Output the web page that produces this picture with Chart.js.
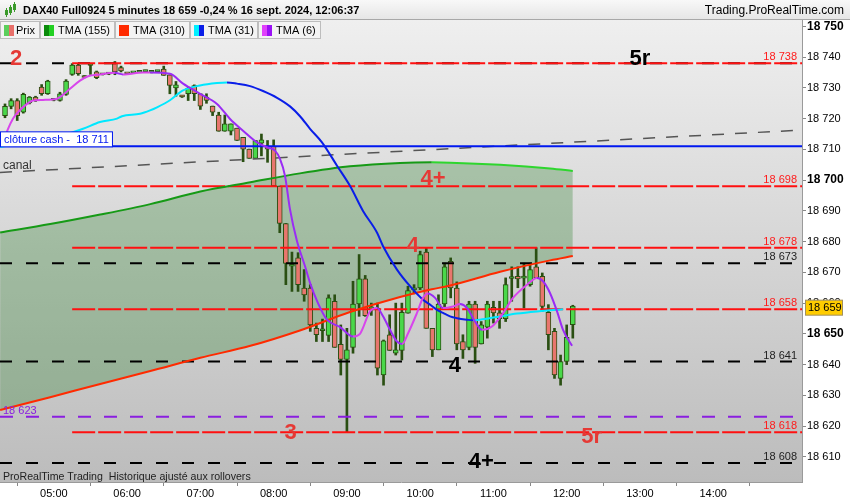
<!DOCTYPE html>
<html><head><meta charset="utf-8">
<script src="https://cdn.jsdelivr.net/npm/chart.js@4.4.1/dist/chart.umd.min.js"></script>
<style>
html,body{margin:0;padding:0;background:#fff;overflow:hidden}
canvas{display:block}
</style></head><body>
<canvas id="c" width="850" height="500"></canvas>
<script>
// ---------------- DATA ----------------
const candleTimes = ['04:20','04:25','04:30','04:35','04:40','04:45','04:50','04:55',
'05:00','05:05','05:10','05:15','05:20','05:25','05:30','05:35','05:40','05:45','05:50','05:55',
'06:00','06:05','06:10','06:15','06:20','06:25','06:30','06:35','06:40','06:45','06:50','06:55',
'07:00','07:05','07:10','07:15','07:20','07:25','07:30','07:35','07:40','07:45','07:50','07:55',
'08:00','08:05','08:10','08:15','08:20','08:25','08:30','08:35','08:40','08:45','08:50','08:55',
'09:00','09:05','09:10','09:15','09:20','09:25','09:30','09:35','09:40','09:45','09:50','09:55',
'10:00','10:05','10:10','10:15','10:20','10:25','10:30','10:35','10:40','10:45','10:50','10:55',
'11:00','11:05','11:10','11:15','11:20','11:25','11:30','11:35','11:40','11:45','11:50','11:55',
'12:00','12:05'];

const openPrices = [18721.0,18724.0,18725.9,18722.1,18725.1,18727.0,18730.3,18728.1,18726.3,18725.9,
18727.9,18734.4,18737.4,18733.6,18737.3,18735.2,18734.5,18734.5,18738.0,18736.6,
18734.7,18734.9,18735.1,18735.3,18735.1,18735.3,18736.1,18734.3,18730.0,18727.3,
18728.1,18730.8,18728.1,18727.0,18724.1,18721.2,18715.9,18715.9,18716.9,18713.9,
18710.1,18707.1,18712.0,18711.0,18711.0,18698.1,18685.9,18672.0,18674.7,18664.9,
18664.9,18651.8,18651.0,18649.5,18660.6,18646.6,18641.7,18645.6,18659.7,18667.9,
18657.8,18658.4,18636.6,18649.7,18643.7,18644.6,18656.7,18664.3,18664.9,18676.6,
18651.8,18644.8,18659.7,18673.6,18664.9,18647.5,18645.6,18659.7,18646.7,18652.2,
18658.6,18656.8,18654.9,18668.0,18668.7,18668.1,18666.0,18671.8,18668.7,18657.0,
18650.8,18635.5,18641.0,18653.0];

const highPrices = [18724.8,18726.5,18726.5,18728.3,18727.2,18727.3,18731.1,18732.5,18726.5,18728.6,
18732.7,18737.9,18737.9,18734.0,18737.8,18735.5,18734.7,18734.8,18738.6,18737.1,
18734.9,18735.2,18735.4,18735.8,18735.4,18735.7,18737.1,18734.3,18732.1,18727.6,
18730.3,18731.0,18728.1,18728.1,18724.1,18722.1,18721.2,18718.3,18716.9,18713.9,
18710.1,18712.9,18715.0,18712.9,18713.1,18698.1,18685.9,18676.6,18676.4,18670.9,
18666.0,18653.5,18654.8,18662.7,18662.7,18652.9,18651.8,18667.1,18675.8,18669.0,
18660.0,18660.0,18648.0,18656.2,18660.0,18660.0,18665.5,18666.0,18676.9,18678.0,
18651.8,18662.7,18673.0,18674.7,18666.9,18649.7,18660.6,18660.6,18654.0,18660.6,
18660.6,18660.6,18668.2,18671.8,18671.8,18673.0,18673.0,18678.0,18669.8,18659.5,
18651.8,18643.1,18652.9,18659.3];

const lowPrices = [18720.3,18723.2,18719.4,18721.8,18724.8,18725.6,18727.6,18727.9,18725.8,18725.7,
18727.6,18734.1,18734.1,18733.3,18734.4,18733.0,18734.2,18734.3,18734.3,18735.2,
18734.4,18734.8,18735.0,18735.0,18734.9,18735.1,18734.1,18728.1,18727.3,18726.9,
18725.9,18725.9,18723.0,18725.0,18721.0,18715.9,18715.9,18714.7,18712.9,18706.0,
18707.1,18707.1,18707.9,18705.8,18698.1,18682.9,18666.0,18663.8,18663.8,18660.6,
18650.8,18647.5,18647.5,18647.5,18645.6,18636.6,18618.1,18643.7,18655.7,18655.7,
18656.0,18636.6,18633.3,18644.6,18643.1,18641.5,18656.7,18663.0,18664.4,18651.8,
18642.6,18644.8,18658.4,18661.7,18644.8,18642.0,18644.8,18640.4,18646.7,18648.6,
18653.5,18651.8,18654.0,18660.6,18665.0,18658.4,18665.5,18668.2,18657.3,18644.8,
18635.5,18633.3,18640.0,18648.6];

const closePrices = [18724.0,18725.9,18721.0,18727.9,18727.0,18725.9,18728.1,18732.2,18726.0,18728.1,
18732.2,18737.4,18734.6,18733.4,18737.6,18733.3,18734.3,18734.6,18735.2,18735.5,
18734.6,18735.0,18735.2,18735.4,18735.2,18735.4,18734.1,18730.8,18731.0,18727.1,
18729.9,18728.1,18724.1,18725.9,18722.1,18715.9,18718.3,18718.3,18712.9,18710.1,
18707.1,18712.9,18713.1,18710.1,18698.1,18685.9,18672.9,18672.2,18666.0,18662.7,
18652.9,18649.7,18651.2,18661.7,18645.6,18641.7,18644.8,18659.7,18667.9,18655.9,
18658.8,18638.8,18647.7,18644.6,18644.8,18657.0,18664.1,18664.7,18675.8,18651.8,
18644.8,18659.7,18671.8,18664.9,18646.7,18644.8,18659.7,18645.6,18652.9,18659.7,
18656.8,18654.9,18666.0,18668.3,18667.9,18668.3,18670.9,18668.2,18658.9,18649.7,
18636.6,18641.0,18648.9,18659.0];

// TMA (6)  (time in minutes after midnight, value)
const tma6Time = [258.4,262.5,266.5,270.6,278.0,282.9,291.1,302.6,306.7,313.2,321.4,328.0,337.8,350.1,356.6,373.0,378.8,
395.1,405.8,419.7,433.6,444.3,454.9,466.4,474.6,481.1,485.2,489.3,493.4,499.1,505.7,509.8,516.3,523.7,534.4,545.0,
550.7,558.9,564.7,569.6,575.3,581.0,585.1,590.1,597.4,602.3,606.4,612.2,618.7,626.9,632.6,638.4,644.9,650.7,658.8,
667.0,676.0,687.5,695.7,700.6,706.3,712.1,717.0,724.4];
const tma6Value = [18712.3,18716.7,18720.0,18722.1,18724.8,18725.9,18726.1,18726.5,18727.5,18729.7,18732.4,18733.8,18734.4,18734.9,18734.4,18735.0,18735.0,
18734.6,18731.4,18728.1,18724.8,18719.9,18716.1,18712.3,18710.7,18709.6,18706.9,18701.4,18690.5,18680.2,18672.0,18666.6,18660.0,18654.6,18652.2,18649.1,
18650.0,18657.3,18658.4,18655.7,18651.3,18647.5,18646.7,18650.2,18656.8,18661.7,18663.1,18661.7,18658.4,18658.9,18659.7,18658.4,18654.0,18651.3,18652.4,
18656.2,18661.7,18666.0,18668.2,18667.1,18663.3,18657.3,18651.3,18646.1];

// TMA (31)
const tma31Time = [256.0,280.5,305.0,323.9,337.8,351.7,355.8,370.6,378.8,384.5,395.1,405.8,419.7,433.6,441.8,450.0,460.7,471.3,
482.8,493.4,501.6,509.8,519.6,531.9,542.6,553.2,564.7,569.6,581.0,591.7,602.3,608.1,613.8,618.7,624.4,630.2,638.4,643.3,
649.0,662.9,679.3,695.7,712.1,717.0];
const tma31Value = [18710.8,18712.3,18714.3,18716.7,18718.9,18720.0,18720.8,18721.6,18722.7,18723.7,18726.0,18729.2,18730.8,18731.6,18731.8,18731.4,18730.6,18729.0,
18726.8,18724.0,18720.8,18716.7,18712.3,18704.7,18698.1,18690.0,18682.9,18678.5,18670.9,18665.5,18661.1,18659.5,18657.8,18656.8,18655.7,18655.1,18654.6,18654.4,
18654.6,18655.5,18656.6,18657.3,18657.8,18658.0];

// TMA (155) and TMA (310), read at common times
const trendTime = [256,297,338,379,420,461,501.5,542.5,583.5,609.5,624.5,665.5,706.5,725];
const tma155Value = [18683.0,18685.7,18688.8,18692.2,18696.3,18699.3,18702.2,18704.5,18705.6,18705.8,18705.7,18705.0,18703.8,18703.0];
const tma310Value = [18625.2,18629.4,18633.7,18637.9,18642.2,18646.1,18651.1,18657.1,18662.0,18664.5,18665.7,18670.2,18673.9,18675.3];

// horizontal levels
const redLevels = [18738, 18698, 18678, 18658, 18618];
const redLevelStart = '05:15';
const blackLevels = [18738, 18673, 18641, 18608];
const purpleLevels = [18623];
const cashClose = 18711;
const canalTime = [255.9, 912.7];
const canalValue = [18702.5, 18716.3];

// annotations (time, value)
const noteTexts  = ['2','5r','4+','4','4','3','5r','4+'];
const noteTimes  = [269, 780, 610.5, 594, 628.5, 494, 740.5, 650];
const noteValues = [18739.4, 18739.4, 18700.4, 18678.6, 18639.5, 18617.7, 18616.4, 18608.3];
const noteRed    = [true, false, true, true, false, true, true, false];

// axes
const xTickLabels = ['05:00','06:00','07:00','08:00','09:00','10:00','11:00','12:00','13:00','14:00','15:00'];
const xHiddenLabels = ['15:00'];
const yTickValues = [18610,18620,18630,18640,18650,18660,18670,18680,18690,18700,18710,18720,18730,18740,18750];
const yBoldEvery = 50;

const titleText = 'DAX40 Full0924 5 minutes 18 659 -0,24 % 16 sept. 2024, 12:06:37';
const siteText = 'Trading.ProRealTime.com';
const footText = 'ProRealTime Trading  Historique ajusté aux rollovers';
const legendNames = ['Prix','TMA (155)','TMA (310)','TMA (31)','TMA (6)'];

// ---------------- CHART ----------------
const F = "'Liberation Sans', Arial, sans-serif";
const toMin = s => { const [h, m] = s.split(':').map(Number); return h * 60 + m; };
const fmt = v => { const s = Math.round(v).toString(); return s.slice(0, s.length - 3) + ' ' + s.slice(-3); };
const X_MIN = 255.9, X_MAX = 912.7, Y_MIN = 18601.8, Y_MAX = 18752.1;

const xs = candleTimes.map(toMin);
const GREEN = '#4ad84a', RED = '#e8766e', EDGE = '#2a4f12';
const bodyColors = xs.map((_, i) => closePrices[i] >= openPrices[i] ? GREEN : RED);

const pts = (t, v) => t.map((x, i) => ({ x, y: v[i] }));
const slopeColor = (up, down) => (c) => c.p1.parsed.y >= c.p0.parsed.y ? up : down;

const datasets = [];
function lineDs(label, data, opts) {
  datasets.push(Object.assign({ type: 'line', label, data, pointRadius: 0, borderWidth: 2, fill: false, tension: 0 }, opts));
  return datasets.length - 1;
}

// candles
datasets.push({ type: 'bar', label: 'wick', data: xs.map((x, i) => ({ x, y: [lowPrices[i], highPrices[i]] })),
  backgroundColor: EDGE, borderWidth: 0, barThickness: 2, grouped: false, order: 9, minBarLength: 1 });
datasets.push({ type: 'bar', label: 'body', data: xs.map((x, i) => ({ x, y: [openPrices[i], closePrices[i]] })),
  backgroundColor: bodyColors, borderColor: EDGE, borderWidth: 1, borderSkipped: false,
  barThickness: 5, grouped: false, order: 8, minBarLength: 2 });

// levels
blackLevels.forEach(v => lineDs('lvl', [{ x: X_MIN, y: v }, { x: X_MAX, y: v }], { borderColor: '#000', borderDash: [12, 14], order: 6 }));
purpleLevels.forEach(v => lineDs('lvl', [{ x: X_MIN, y: v }, { x: X_MAX, y: v }], { borderColor: '#8a1ee0', borderDash: [13, 13], order: 6 }));
redLevels.forEach(v => lineDs('lvl', [{ x: toMin(redLevelStart), y: v }, { x: X_MAX, y: v }], { borderColor: '#ff1010', borderDash: [23, 3], order: 5 }));
lineDs('cash', [{ x: X_MIN, y: cashClose }, { x: X_MAX, y: cashClose }], { borderColor: '#0018f0', order: 5 });
lineDs('canal', pts(canalTime, canalValue), { borderColor: '#555', borderWidth: 1.5, borderDash: [12, 11], order: 6 });

// moving averages
const i310 = lineDs('TMA (310)', pts(trendTime, tma310Value), { borderColor: '#ff2a00', cubicInterpolationMode: 'monotone', order: 3 });
// area between TMA (155) and TMA (310), one plain shape
lineDs('cloud', pts(trendTime, tma155Value), { borderWidth: 0, borderColor: 'rgba(0,0,0,0)', cubicInterpolationMode: 'monotone', order: 20,
  fill: { target: i310 }, backgroundColor: 'rgba(40,125,40,0.30)' });
lineDs('TMA (155)', pts(trendTime, tma155Value), { borderColor: '#169a16', cubicInterpolationMode: 'monotone', order: 4,
  segment: { borderColor: slopeColor('#169a16', '#2ed62e') } });
lineDs('TMA (31)', pts(tma31Time, tma31Value), { borderColor: '#00e8ff', cubicInterpolationMode: 'monotone', order: 2,
  segment: { borderColor: slopeColor('#00e8ff', '#0a1ee8') } });
lineDs('TMA (6)', pts(tma6Time, tma6Value), { borderColor: '#d845ec', cubicInterpolationMode: 'monotone', order: 1,
  segment: { borderColor: slopeColor('#d845ec', '#9a2cf5') } });

const decor = {
  id: 'decor',
  beforeDraw(chart) {
    const { ctx, chartArea: a } = chart;
    ctx.save();
    ctx.fillStyle = '#fff'; ctx.fillRect(0, 0, chart.width, chart.height);
    const g = ctx.createLinearGradient(0, a.top, 0, a.bottom);
    g.addColorStop(0, '#efefef'); g.addColorStop(1, '#bcbcbc');
    ctx.fillStyle = g; ctx.fillRect(a.left, a.top, a.right - a.left, a.bottom - a.top);
    ctx.restore();
  },
  afterDatasetsDraw(chart) {
    const { ctx, chartArea: a, scales: { x, y } } = chart;
    ctx.save();
    // right-hand level labels
    ctx.font = `11px ${F}`; ctx.textAlign = 'right'; ctx.textBaseline = 'alphabetic';
    redLevels.forEach(v => { ctx.fillStyle = '#ff1a1a'; ctx.fillText(fmt(v), a.right - 5, y.getPixelForValue(v) - 3); });
    blackLevels.filter(v => !redLevels.includes(v)).forEach(v => { ctx.fillStyle = '#222'; ctx.fillText(fmt(v), a.right - 5, y.getPixelForValue(v) - 3); });
    // left labels
    ctx.textAlign = 'left';
    purpleLevels.forEach(v => { ctx.fillStyle = '#8a1ee0'; ctx.fillText(fmt(v), a.left + 3, y.getPixelForValue(v) - 3); });
    ctx.fillStyle = '#333'; ctx.font = `12px ${F}`;
    ctx.fillText('canal', a.left + 3, y.getPixelForValue(canalValue[0]) - 3);
    // cash close box
    const cy = y.getPixelForValue(cashClose);
    ctx.font = `11px ${F}`;
    const txt = 'clôture cash -  ' + fmt(cashClose);
    const w = ctx.measureText(txt).width + 7;
    ctx.fillStyle = '#fff'; ctx.fillRect(a.left + 0.5, cy - 14.5, w, 15);
    ctx.strokeStyle = '#0018f0'; ctx.lineWidth = 1; ctx.strokeRect(a.left + 0.5, cy - 14.5, w, 15);
    ctx.fillStyle = '#0018f0'; ctx.fillText(txt, a.left + 4, cy - 3);
    // notes
    ctx.font = `bold 22px ${F}`; ctx.textAlign = 'center'; ctx.textBaseline = 'middle';
    noteTexts.forEach((t, i) => {
      ctx.fillStyle = noteRed[i] ? '#e53935' : '#000';
      ctx.fillText(t, x.getPixelForValue(noteTimes[i]), y.getPixelForValue(noteValues[i]));
    });
    // footer
    ctx.font = `10.6px ${F}`; ctx.textAlign = 'left'; ctx.textBaseline = 'alphabetic'; ctx.fillStyle = '#222';
    ctx.fillText(footText, a.left + 3, a.bottom - 2);
    ctx.restore();
  },
  afterDraw(chart) {
    const { ctx, chartArea: a, scales: { y } } = chart;
    ctx.save();
    // title bar
    const g = ctx.createLinearGradient(0, 0, 0, 19);
    g.addColorStop(0, '#f8f8f8'); g.addColorStop(1, '#e6e6e6');
    ctx.fillStyle = g; ctx.fillRect(0, 0, chart.width, 19);
    ctx.fillStyle = '#a8a8a8'; ctx.fillRect(0, 19, chart.width, 1);
    // icon
    ctx.fillStyle = '#3a9a2a';
    [[5, 10, 3, 5], [9, 7, 3, 6], [13, 4, 3, 6]].forEach(r => { ctx.fillRect(r[0], r[1], r[2], r[3]); ctx.fillRect(r[0] + 1, r[1] - 2, 1, r[3] + 4); });
    ctx.fillStyle = '#000'; ctx.font = `bold 11px ${F}`; ctx.textBaseline = 'middle'; ctx.textAlign = 'left';
    ctx.fillText(titleText, 23, 10.5);
    ctx.font = `12px ${F}`; ctx.textAlign = 'right';
    ctx.fillText(siteText, chart.width - 6, 10.5);
    // legend cells
    const cells = [[0, 39], [40, 114], [115, 189], [190, 257], [258, 320]];
    const icons = [['#5ccf5c', '#e8706a'], ['#0a8a0a', '#22d022'], ['#ff2a00', '#ff2a00'], ['#00f0ff', '#0a1ee8'], ['#e040fb', '#9a10f5']];
    ctx.font = `11px ${F}`; ctx.textAlign = 'left';
    cells.forEach((c, i) => {
      ctx.fillStyle = '#f3f3f3'; ctx.fillRect(c[0] + 0.5, 21.5, c[1] - c[0], 17);
      ctx.strokeStyle = '#bdbdbd'; ctx.lineWidth = 1; ctx.strokeRect(c[0] + 0.5, 21.5, c[1] - c[0], 17);
      ctx.fillStyle = icons[i][0]; ctx.fillRect(c[0] + 4, 25, 5, 11);
      ctx.fillStyle = icons[i][1]; ctx.fillRect(c[0] + 9, 25, 5, 11);
      ctx.fillStyle = '#000'; ctx.fillText(legendNames[i], c[0] + (i === 0 ? 16 : 18), 30.5);
    });
    // last price box
    const last = closePrices[closePrices.length - 1];
    const py = y.getPixelForValue(last) + 1.5;
    ctx.fillStyle = '#ffcc00'; ctx.fillRect(a.right + 3.5, py - 7.5, 37, 15);
    ctx.strokeStyle = '#a09060'; ctx.strokeRect(a.right + 3.5, py - 7.5, 37, 15);
    ctx.fillStyle = '#000'; ctx.font = `11px ${F}`; ctx.textAlign = 'left'; ctx.textBaseline = 'middle';
    ctx.fillText(fmt(last), a.right + 6, py);
    ctx.restore();
  }
};

new Chart(document.getElementById('c'), {
  type: 'line',
  data: { datasets },
  options: {
    responsive: false, animation: false, devicePixelRatio: 1,
    layout: { padding: { top: 20, left: 0, right: 0, bottom: 0 } },
    plugins: { legend: { display: false }, tooltip: { enabled: false }, filler: { drawTime: 'beforeDatasetsDraw' } },
    scales: {
      x: {
        type: 'linear', min: X_MIN, max: X_MAX, offset: false,
        afterBuildTicks: s => { s.ticks = xTickLabels.map(l => ({ value: toMin(l) })); },
        afterFit: s => { s.height = 18; },
        ticks: {
          autoSkip: false, maxRotation: 0, padding: 1, color: '#000', font: { family: F, size: 11 },
          callback: v => { const l = xTickLabels.find(t => toMin(t) === v); return xHiddenLabels.includes(l) ? '' : l; }
        },
        grid: { drawOnChartArea: false, drawTicks: true, tickLength: 4, color: '#888' },
        border: { display: true, color: '#9a9a9a' }
      },
      y: {
        type: 'linear', position: 'right', min: Y_MIN, max: Y_MAX,
        afterBuildTicks: s => { s.ticks = yTickValues.map(v => ({ value: v })); },
        afterFit: s => { s.width = 48; },
        ticks: {
          padding: 1, color: '#000', callback: v => fmt(v),
          font: c => (c.tick && c.tick.value % yBoldEvery === 0) ? { family: F, size: 12, weight: 'bold' } : { family: F, size: 11 }
        },
        grid: { drawOnChartArea: false, drawTicks: true, tickLength: 4, color: '#888' },
        border: { display: true, color: '#9a9a9a' }
      }
    }
  },
  plugins: [decor]
});
</script>
</body></html>
